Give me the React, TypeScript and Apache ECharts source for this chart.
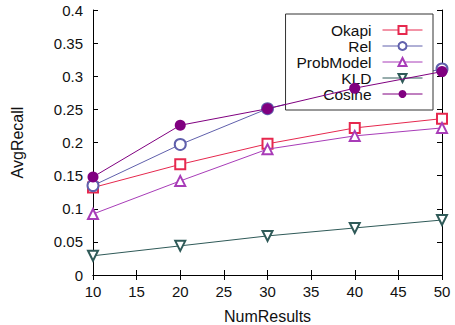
import React, { useEffect, useRef } from "react";
import * as echarts from "echarts";

const numResults = [10, 20, 30, 40, 50];
const okapi = [0.132, 0.167, 0.198, 0.222, 0.236];
const rel = [0.135, 0.197, 0.251, 0.283, 0.311];
const probModel = [0.092, 0.142, 0.19, 0.21, 0.222];
const kld = [0.029, 0.044, 0.059, 0.071, 0.083];
const cosine = [0.148, 0.226, 0.251, 0.282, 0.307];

const seriesNames = ["Okapi", "Rel", "ProbModel", "KLD", "Cosine"];
const seriesColors = ["#e6284e", "#6060ac", "#a83cb8", "#2f5a58", "#800080"];

const FONT = "Liberation Sans, Arial, sans-serif";

export default function App() {
  const ref = useRef<HTMLDivElement>(null);
  useEffect(() => {
    if (!ref.current) return;
    const chart = echarts.init(ref.current, null, { renderer: "svg" });
    const datasets = [okapi, rel, probModel, kld, cosine];
    const symbols = ["emptyRect", "emptyCircle", "emptyTriangle", "emptyTriangle", "circle"];
    const rotates = [0, 0, 0, 180, 0];
    const sizes = [10, 11, 10, 10, 11];
    const series = datasets.map((d, i) => ({
      name: seriesNames[i],
      type: "line",
      data: d.map((v, j) => [numResults[j], v]),
      symbol: symbols[i],
      symbolSize: sizes[i],
      symbolRotate: rotates[i],
      showAllSymbol: true,
      itemStyle: { color: seriesColors[i], borderWidth: 1 },
      lineStyle: { color: seriesColors[i], width: 1 },
      z: 2 + i,
    }));
    const tickStyle = { lineStyle: { color: "#000", width: 1 } };
    chart.setOption({
      animation: false,
      backgroundColor: "#fff",
      grid: { left: 93, right: 13, top: 10, bottom: 50, containLabel: false, outerBoundsMode: "none" },
      legend: {
        data: seriesNames,
        orient: "vertical",
        right: 22,
        top: 14,
        align: "right",
        itemWidth: 40,
        itemHeight: 10,
        itemGap: 0,
        padding: [8, 10, 8, 11],
        borderColor: "#333",
        borderWidth: 1,
        backgroundColor: "#fff",
        lineStyle: { width: 1 },
        itemStyle: { borderWidth: 1 },
        textStyle: { fontFamily: FONT, fontSize: 15.5, lineHeight: 16, color: "#111", padding: [0, 6, 0, 0] },
      },
      xAxis: [
        {
          type: "value",
          min: 10,
          max: 50,
          interval: 5,
          name: "NumResults",
          nameLocation: "middle",
          nameGap: 33,
          nameTextStyle: { fontFamily: FONT, fontSize: 16, color: "#111" },
          axisLine: { lineStyle: { color: "#000", width: 1 } },
          axisTick: { inside: true, length: 5, ...tickStyle },
          axisLabel: { fontFamily: FONT, fontSize: 15, color: "#111", margin: 9 },
          splitLine: { show: false },
        },
        {
          type: "value",
          position: "top",
          min: 10,
          max: 50,
          interval: 5,
          axisLine: { lineStyle: { color: "#000", width: 1 } },
          axisTick: { inside: true, length: 5, ...tickStyle },
          axisLabel: { show: false },
          splitLine: { show: false },
        },
      ],
      yAxis: [
        {
          type: "value",
          min: 0,
          max: 0.4,
          interval: 0.05,
          name: "AvgRecall",
          nameLocation: "middle",
          nameGap: 68,
          nameRotate: 90,
          nameTextStyle: { fontFamily: FONT, fontSize: 16, color: "#111" },
          axisLine: { show: true, lineStyle: { color: "#000", width: 1 } },
          axisTick: { show: true, inside: true, length: 5, ...tickStyle },
          axisLabel: { fontFamily: FONT, fontSize: 15, color: "#111", margin: 10 },
          splitLine: { show: false },
        },
        {
          type: "value",
          position: "right",
          min: 0,
          max: 0.4,
          interval: 0.05,
          axisLine: { show: true, lineStyle: { color: "#000", width: 1 } },
          axisTick: { show: true, inside: true, length: 5, ...tickStyle },
          axisLabel: { show: false },
          splitLine: { show: false },
        },
      ],
      series,
    });
    return () => chart.dispose();
  }, []);
  return <div ref={ref} style={{ width: 455, height: 325, position: "absolute", left: 0, top: 0 }} />;
}
